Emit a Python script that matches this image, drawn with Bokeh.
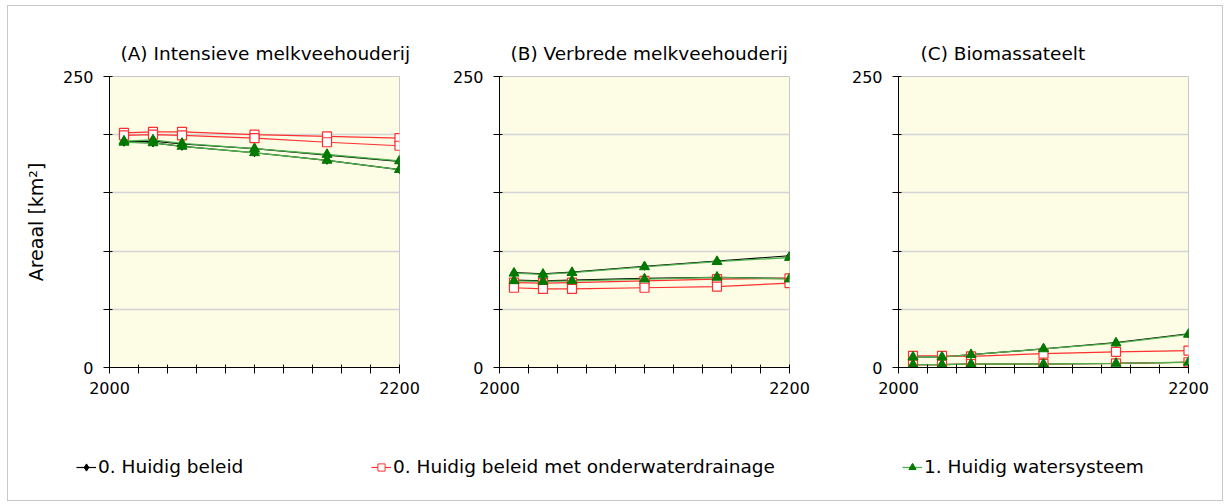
from bokeh.plotting import figure
from bokeh.models import (Range1d, FixedTicker, Legend, LegendItem, ColumnDataSource)
from bokeh.layouts import row, column
from bokeh.embed import file_html
from bokeh.resources import INLINE

# ---------------- data ----------------
years = [2010, 2030, 2050, 2100, 2150, 2200]

titles = ["(A) Intensieve melkveehouderij", "(B) Verbrede melkveehouderij", "(C) Biomassateelt"]
series_names = ["0. Huidig beleid", "0. Huidig beleid met onderwaterdrainage", "1. Huidig watersysteem"]

# Panel A
black_a1 = [194, 194.5, 192, 188, 182.5, 177]
black_a2 = [193.5, 193, 190, 184.5, 178, 170]
red_a1 = [201.5, 202.5, 202.5, 200, 198.5, 197]
red_a2 = [199.5, 200, 199.5, 197, 193.5, 190.5]
green_a1 = [194.5, 195.5, 192.5, 188, 183, 177.5]
green_a2 = [193.5, 193, 190, 184.5, 178, 170]

# Panel B
black_b1 = [81.5, 80.5, 82, 87, 91.5, 96]
black_b2 = [75, 74.5, 75, 76.5, 77.5, 76.5]
red_b1 = [73, 72.5, 73, 74.5, 76, 76.5]
red_b2 = [68.5, 67.5, 67.5, 68.5, 69.5, 72.5]
green_b1 = [81, 80, 81.5, 86.5, 91, 94.5]
green_b2 = [74.5, 74, 74.5, 76, 77.5, 76]

# Panel C
black_c1 = [9, 9, 11, 16, 21.5, 29]
black_c2 = [2.5, 2.5, 3, 3, 3.5, 4.5]
red_c1 = [10, 10, 9.5, 12, 13.5, 14.5]
red_c2 = [2.5, 2.5, 3, 3, 3.5, 4.5]
green_c1 = [9, 9, 11, 16, 21, 28.5]
green_c2 = [2.5, 2.5, 3, 3, 3.5, 4.5]

y_ticks = [0, 50, 100, 150, 200, 250]
x_ticks = list(range(2000, 2201, 20))

panels = [
    (black_a1, black_a2, red_a1, red_a2, green_a1, green_a2),
    (black_b1, black_b2, red_b1, red_b2, green_b1, green_b2),
    (black_c1, black_c2, red_c1, red_c2, green_c1, green_c2),
]

FONT = "DejaVu Sans"
BLACK = "#000000"
RED = "#ff3030"
GREEN_LINE = "#4cb04c"
GREEN_FILL = "#007a00"

borders = [(101, 45), (55, 45), (64, 34)]
title_offsets = [11, 11, 22]


def make_panel(i):
    bl, br = borders[i]
    w = bl + 290 + br
    p = figure(width=w, height=404, output_backend="svg", toolbar_location=None,
               x_range=Range1d(2000, 2200), y_range=Range1d(0, 250),
               min_border_left=bl, min_border_right=br, min_border_top=70,
               min_border_bottom=43)
    p.background_fill_color = "#fdfde5"
    p.border_fill_color = "white"
    p.outline_line_color = "#c8c8c8"
    p.title.text = titles[i]
    p.title.align = "left"
    p.title.offset = title_offsets[i]
    p.title.text_font = FONT
    p.title.text_font_size = "18.5px"
    p.title.text_font_style = "normal"
    p.title.text_color = "black"
    p.title.standoff = 25

    p.xgrid.visible = False
    p.ygrid.ticker = FixedTicker(ticks=y_ticks)
    p.ygrid.grid_line_color = "#d4d4d4"
    p.ygrid.grid_line_width = 1.5

    p.yaxis.ticker = FixedTicker(ticks=y_ticks)
    p.yaxis.major_label_overrides = {t: "" for t in y_ticks[1:-1]}
    p.xaxis.ticker = FixedTicker(ticks=x_ticks)
    p.xaxis.major_label_overrides = {t: "" for t in x_ticks[1:-1]}
    for ax in (p.xaxis, p.yaxis):
        ax.minor_tick_line_color = None
        ax.major_tick_in = 3
        ax.major_tick_out = 6
        ax.axis_line_color = "black"
        ax.major_tick_line_color = "black"
        ax.major_label_text_font = FONT
        ax.major_label_text_font_size = "16px"
        ax.major_label_text_color = "black"
    p.xaxis.major_label_standoff = 8
    p.yaxis.major_label_standoff = 10
    if i == 0:
        p.yaxis.axis_label = "Areaal [km²]"
        p.yaxis.axis_label_text_font = FONT
        p.yaxis.axis_label_text_font_size = "19px"
        p.yaxis.axis_label_text_font_style = "normal"
        p.yaxis.axis_label_text_color = "black"
        p.yaxis.axis_label_standoff = 13

    b1, b2, r1, r2, g1, g2 = panels[i]
    for ys in (b1, b2):
        p.line(years, ys, line_color=BLACK, line_width=1.2)
    for ys in (r1, r2):
        p.line(years, ys, line_color=RED, line_width=1.2)
    for ys in (g1, g2):
        p.line(years, ys, line_color=GREEN_LINE, line_width=1.3)
    for ys in (b1, b2):
        p.scatter(years, ys, marker="diamond", size=8, fill_color=BLACK, line_color=BLACK)
    for ys in (r1, r2):
        p.scatter(years, ys, marker="square", size=9, fill_color="white", line_color=RED, line_width=1.2)
    for ys in (g1, g2):
        p.scatter(years, ys, marker="triangle", size=10, fill_color=GREEN_FILL, line_color=GREEN_FILL)
    return p


figs = [make_panel(i) for i in range(3)]

# legend figure (renderers hold a single point outside the visible range)
lf = figure(width=1214, height=90, output_backend="svg", toolbar_location=None,
            x_range=Range1d(0, 1), y_range=Range1d(0, 1),
            min_border=0)
lf.axis.visible = False
lf.grid.visible = False
lf.outline_line_color = None
lf.background_fill_color = "white"
off = dict(x=[-10], y=[-10])
l1 = lf.line("x", "y", source=ColumnDataSource(off), line_color=BLACK, line_width=1.2)
m1 = lf.scatter("x", "y", source=ColumnDataSource(off), marker="diamond", size=8, fill_color=BLACK, line_color=BLACK)
l2 = lf.line("x", "y", source=ColumnDataSource(off), line_color=RED, line_width=1.2)
m2 = lf.scatter("x", "y", source=ColumnDataSource(off), marker="square", size=7, fill_color="white", line_color=RED)
l3 = lf.line("x", "y", source=ColumnDataSource(off), line_color=GREEN_LINE, line_width=1.3)
m3 = lf.scatter("x", "y", source=ColumnDataSource(off), marker="triangle", size=9, fill_color=GREEN_FILL, line_color=GREEN_FILL)

leg_items = [(series_names[0], [l1, m1], 68),
             (series_names[1], [l2, m2], 363),
             (series_names[2], [l3, m3], 894)]
for label, rends, xpos in leg_items:
    lg = Legend(items=[LegendItem(label=label, renderers=rends)],
                location=(xpos, 23),
                glyph_width=20, glyph_height=18, label_standoff=2,
                label_text_font=FONT, label_text_font_size="18.5px",
                label_text_color="black",
                padding=0, margin=0, border_line_color=None,
                background_fill_alpha=0)
    lf.add_layout(lg)

layout = column(row(*figs, spacing=0), lf, spacing=0,
                styles={"margin-left": "8px", "margin-top": "6px",
                        "outline": "1px solid #c8c8c8"})

open("out.html", "w").write(file_html(layout, INLINE))
